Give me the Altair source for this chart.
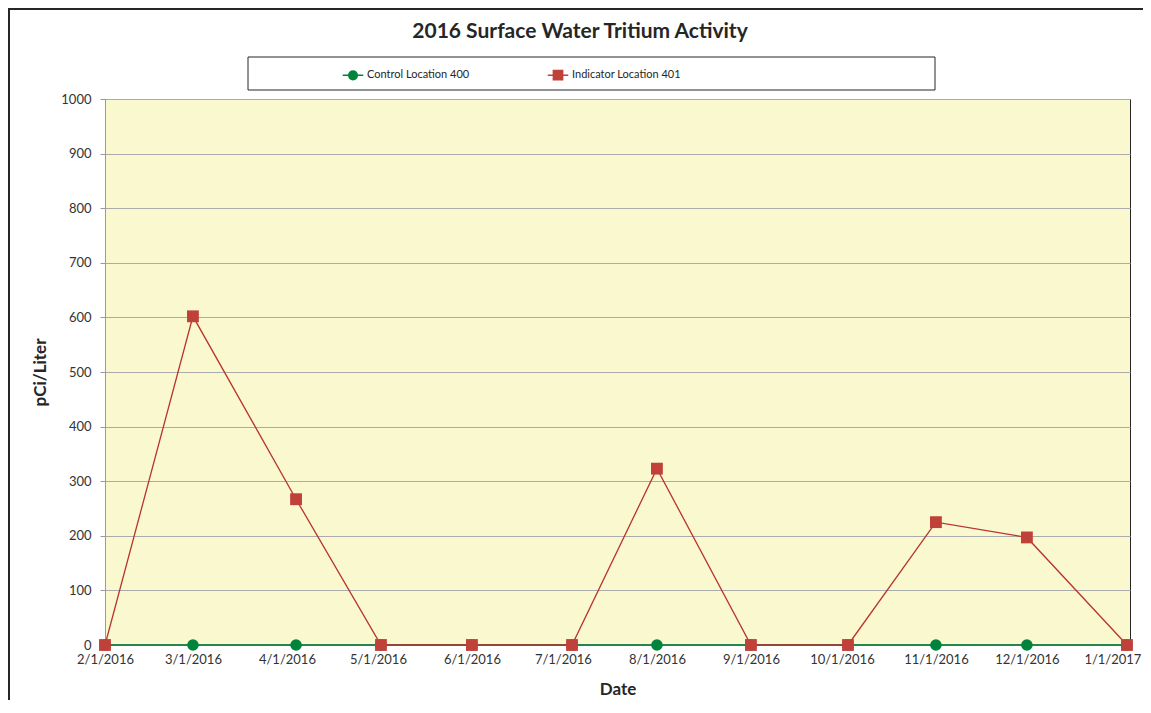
import altair as alt
import pandas as pd

# ---------------- data ----------------
sample_dates = ["2016-02-01", "2016-03-01", "2016-04-04", "2016-05-02", "2016-06-01",
                "2016-07-04", "2016-08-01", "2016-09-01", "2016-10-03", "2016-11-01",
                "2016-12-01", "2017-01-03"]
control_values = [0, 0, 0, 0, 0, 0, 0, 0, 0, 0, 0, 0]
indicator_values = [0, 602, 267, 0, 0, 0, 323, 0, 0, 225, 197, 0]
series_names = ["Control Location 400", "Indicator Location 401"]
month_ticks = [(2016, 2), (2016, 3), (2016, 4), (2016, 5), (2016, 6), (2016, 7),
               (2016, 8), (2016, 9), (2016, 10), (2016, 11), (2016, 12), (2017, 1)]
y_ticks = [0, 100, 200, 300, 400, 500, 600, 700, 800, 900, 1000]
title_text = "2016 Surface Water Tritium Activity"

rows = []
for d, c, i in zip(sample_dates, control_values, indicator_values):
    rows.append({"date": d, "series": series_names[0], "value": c})
    rows.append({"date": d, "series": series_names[1], "value": i})
df = pd.DataFrame(rows)

GREEN_M = "#00833C"
GREEN_L = "#23874C"
RED_M = "#C0403A"
RED_L = "#B8342E"
FONT = "Lato"
W, H = 1025, 546

last_tick_test = "utcyear(datum.value) == 2017"

x_enc = alt.X(
    "date:T",
    scale=alt.Scale(type="utc",
                    domain=[alt.DateTime(year=2016, month=2, date=1, utc=True),
                            alt.DateTime(year=2017, month=1, date=4, utc=True)]),
    axis=alt.Axis(values=[alt.DateTime(year=y, month=m, date=1, utc=True) for y, m in month_ticks],
                  labelExpr="utcFormat(datum.value, '%-m/%-d/%Y')",
                  labelAlign={"condition": {"test": last_tick_test, "value": "right"},
                              "value": "center"},
                  labelOffset={"condition": {"test": last_tick_test, "value": 20},
                               "value": 0},
                  grid=False, ticks=False,
                  domain=False, labelPadding=8, labelFont=FONT, labelFontSize=13,
                  labelColor="#333333", labelOverlap=False, labelFlush=False,
                  title="Date", titleFont=FONT, titleFontSize=17, titleFontWeight="bold",
                  titleColor="#262626", titleY=44, titleBaseline="middle"),
)
y_enc = alt.Y(
    "value:Q",
    scale=alt.Scale(domain=[0, 1000], nice=False),
    axis=alt.Axis(values=y_ticks, format="d", grid=True, gridColor="#ABABAB", gridWidth=1,
                  tickColor="#9A9A9A", tickSize=5, domainColor="#9A9A9A",
                  labelPadding=9, labelFont=FONT, labelFontSize=13, labelColor="#333333",
                  title="pCi/Liter", titleFont=FONT, titleFontSize=17, titleFontWeight="bold",
                  titleColor="#262626", titleX=-65, titleY=H / 2, titleBaseline="middle",
                  titleAngle=270),
)

base = alt.Chart(df)

ctrl = base.transform_filter(alt.datum.series == series_names[0])
ind = base.transform_filter(alt.datum.series == series_names[1])

ctrl_line = ctrl.mark_line(color=GREEN_L, strokeWidth=2.2).encode(x=x_enc, y=y_enc)
ctrl_pts = ctrl.mark_point(shape="circle", filled=True, color=GREEN_M, opacity=1,
                           size=135).encode(x=x_enc, y=y_enc)
ind_line = ind.mark_line(color=RED_L, strokeWidth=1.3).encode(x=x_enc, y=y_enc)
ind_pts = ind.mark_point(shape="square", filled=True, color=RED_M, opacity=1,
                         size=140).encode(x=x_enc, y=y_enc)

circle_path = "M-1,0H-0.42M0.42,0H1M-0.42,0A0.42,0.42,0,1,1,0.42,0A0.42,0.42,0,1,1,-0.42,0Z"
square_path = "M-1,0H-0.45M0.45,0H1M-0.45,-0.45H0.45V0.45H-0.45Z"

leg = alt.Legend(title=None, orient="none", legendX=237, legendY=-35,
                 direction="horizontal", columnPadding=74, symbolSize=420,
                 symbolStrokeWidth=1.5, symbolOpacity=1, labelFont=FONT,
                 labelFontSize=11, labelColor="#262626", labelOffset=3, padding=0)
sc_fill = alt.Scale(domain=series_names, range=[GREEN_M, RED_M])
sc_shape = alt.Scale(domain=series_names, range=[circle_path, square_path])

legend_layer = base.mark_point(opacity=0).encode(
    x=x_enc, y=y_enc,
    fill=alt.Fill("series:N", scale=sc_fill, legend=leg),
    stroke=alt.Stroke("series:N", scale=sc_fill, legend=leg),
    shape=alt.Shape("series:N", scale=sc_shape, legend=leg),
)

one = alt.Data(values=[{"t": title_text}])
frame_left = alt.Chart(one).mark_rule(color="#262626", strokeWidth=2).encode(
    x=alt.value(-96), y=alt.value(-91), y2=alt.value(700))
frame_top = alt.Chart(one).mark_rule(color="#262626", strokeWidth=2).encode(
    x=alt.value(-97), x2=alt.value(1100), y=alt.value(-90))
legend_box = alt.Chart(one).mark_rect(fill="white", stroke="#262626", strokeWidth=1).encode(
    x=alt.value(143), x2=alt.value(830), y=alt.value(-42), y2=alt.value(-9))
title = alt.Chart(one).mark_text(font=FONT, fontSize=21, fontWeight="bold", color="#262626",
                                 align="center", baseline="middle").encode(
    text="t:N", x=alt.value(475), y=alt.value(-67))

chart = alt.layer(
    frame_left, frame_top, legend_box, title, legend_layer,
    ctrl_line, ctrl_pts, ind_line, ind_pts
).properties(
    width=W, height=H,
    autosize=alt.AutoSizeParams(type="none"),
    padding={"left": 97, "top": 91, "right": 13, "bottom": 55},
    background="white",
).configure_view(
    fill="#FAF8CE", stroke="#262626", strokeWidth=1
)

chart.save("out.html", embed_options={"renderer": "svg", "actions": False})
